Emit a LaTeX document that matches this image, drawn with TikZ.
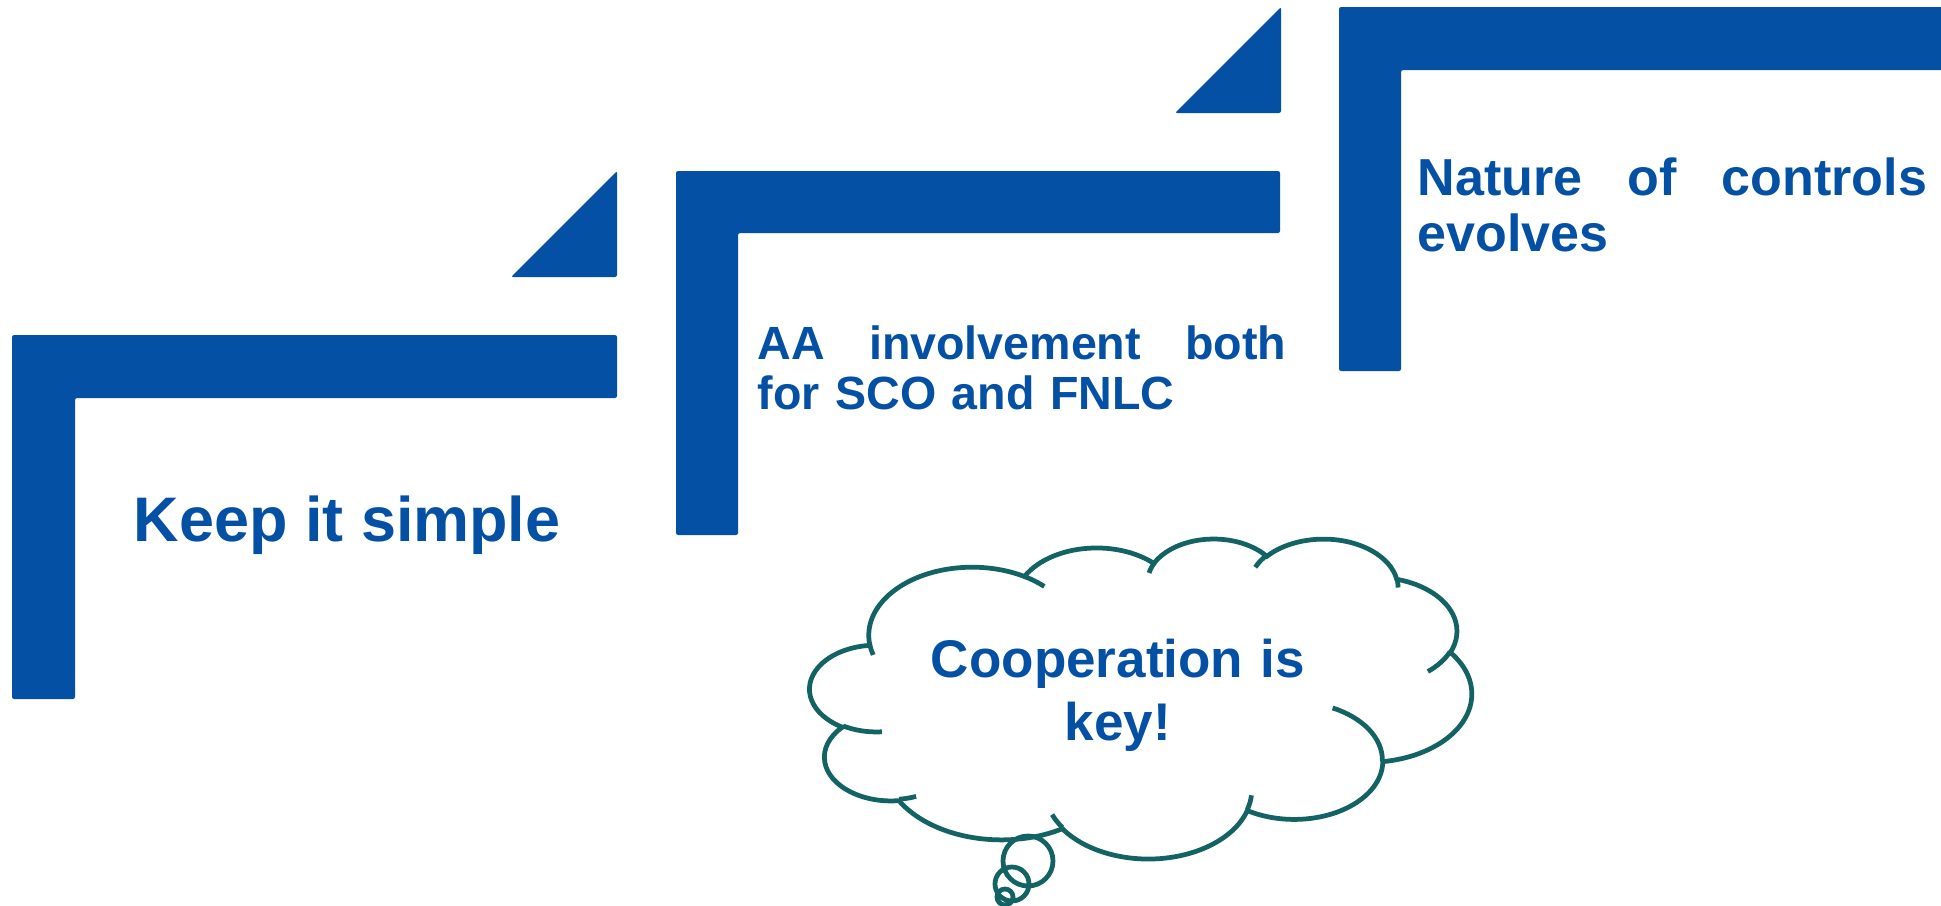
\documentclass[tikz,border=0pt]{standalone}
\usepackage{fontspec}
\setmainfont{Liberation Sans}
\usetikzlibrary{positioning}
\definecolor{stepblue}{RGB}{4,80,164}
\definecolor{cloudteal}{RGB}{20,99,100}

% one bump of the cloud, angles taken as seen on the ellipse
\newcommand\cloudarc[4]{arc[x radius=#1, y radius=#2,
    start angle={atan2(sin(#3)*#1/#2, cos(#3))},
    delta angle={mod(atan2(sin(#3+#4)*#1/#2, cos(#3+#4))-atan2(sin(#3)*#1/#2, cos(#3))+720, 360)}]}

\begin{document}
\begin{tikzpicture}[x=0.01cm, y=-0.01cm,
        stepbar/.style={fill=stepblue, rounded corners=0.6pt},
        steptext/.style={text=stepblue, inner sep=0pt, anchor=base west},
        cloudline/.style={draw=cloudteal, line width=1.35pt}]
    \clip (0,0) rectangle (1941,906);

    % steps, each with its small wedge
    \fill[stepbar] (12,335) -- (617,335) -- (617,398) -- (75,398) -- (75,699) -- (12,699) -- cycle;
    \fill[stepbar] (511,277) -- (617,171) -- (617,277) -- cycle;
    \fill[stepbar] (676,171) -- (1280,171) -- (1280,233) -- (738,233) -- (738,535) -- (676,535) -- cycle;
    \fill[stepbar] (1175,113) -- (1281,7) -- (1281,113) -- cycle;
    \fill[stepbar] (1339,7) -- (1960,7) -- (1960,70) -- (1401,70) -- (1401,371) -- (1339,371) -- cycle;

    \node (simple) [steptext, font=\bfseries\fontsize{17.9}{21}\selectfont] at (133,541) {Keep it simple};
    \node (aa) [steptext, text width=5.28cm, align=left, font=\bfseries\fontsize{13.25}{14.23}\selectfont]
        at (757,359) {AA\hfill involvement\hfill both\\for SCO and FNLC};
    \node (nature) [steptext, text width=5.09cm, align=left, font=\bfseries\fontsize{14.8}{15.93}\selectfont]
        at (1417,195) {Nature\hfill of\hfill controls\\evolves};

    % thought cloud
    \begin{scope}[shift={(810,538)}, x=0.015301cm, y=-0.0074074cm]
        \draw[cloudline] (39.00,143.70)
            \cloudarc{67.53}{91.90}{-190.4875}{123.7805}
            \cloudarc{53.33}{72.67}{-144.1024}{89.9452}
            \cloudarc{43.65}{59.45}{-145.8079}{99.7230}
            \cloudarc{48.57}{65.95}{-130.9861}{117.2417}
            \cloudarc{53.33}{72.73}{-78.7089}{109.0269}
            \cloudarc{67.75}{92.20}{-46.2673}{130.2690}
            \cloudarc{57.85}{78.67}{0.6250}{114.0333}
            \cloudarc{67.52}{92.15}{22.4516}{115.1726}
            \cloudarc{77.20}{105.43}{66.2426}{75.7110}
            \cloudarc{43.60}{59.18}{-274.9421}{146.7356}
            \cloudarc{43.45}{59.45}{-246.8285}{152.5189}
            -- cycle;
        % inner creases
        \draw[cloudline]
            (46.93,261.77) \cloudarc{43.45}{59.45}{86.7420}{26.4295}
            (69.28,348.99) \cloudarc{43.60}{59.18}{73.6105}{11.4475}
            (164.78,390.90) \cloudarc{67.52}{92.15}{137.6242}{14.0811}
            (288.27,347.51) \cloudarc{67.52}{92.15}{6.4533}{15.9984}
            (341.29,229.54) \cloudarc{57.85}{78.67}{-70.2924}{70.9174}
            (417.98,153.54) \cloudarc{53.33}{72.73}{30.3180}{27.7515}
            (383.24,54.26) \cloudarc{48.57}{65.95}{-13.7443}{14.8589}
            (290.78,39.52) \cloudarc{48.57}{65.95}{-149.1815}{18.1954}
            (221.41,47.20) \cloudarc{43.65}{59.45}{-163.4943}{17.6864}
            (140.00,51.92) \cloudarc{67.53}{91.90}{-66.7070}{12.3194}
            (41.27,157.89) \cloudarc{67.53}{91.90}{157.6544}{11.8582};
    \end{scope}
    \draw[cloudline] (1028,861) circle[radius=25] (1012,884) circle[radius=17] (1005,897) circle[radius=8];

    \node (coop) [text=stepblue, inner sep=0pt, anchor=base, text width=4.5cm, align=center,
        font=\bfseries\fontsize{15.08}{17.93}\selectfont] at (1118,677) {Cooperation is\\key!};
\end{tikzpicture}
\end{document}
